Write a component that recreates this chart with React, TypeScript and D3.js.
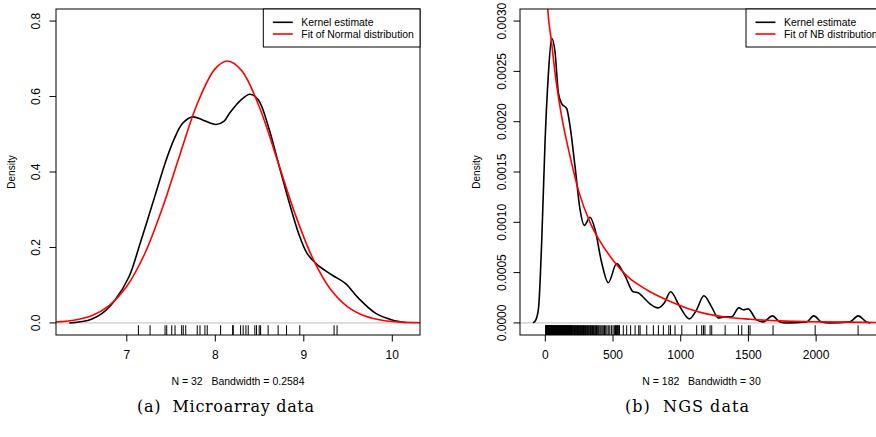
import React from "react";
import * as d3 from "d3";

// ---------- Panel (a): microarray data ----------
const microTicksX = [7, 8, 9, 10];
const microTicksY = [0.0, 0.2, 0.4, 0.6, 0.8];
const microTickLabelsY = ["0.0", "0.2", "0.4", "0.6", "0.8"];
const microKernel: [number, number][] = [
  [6.35, 0.0], [6.5, 0.004], [6.6, 0.01], [6.725, 0.026], [6.868, 0.061], [7.026, 0.123],
  [7.139, 0.202], [7.234, 0.273], [7.328, 0.344], [7.442, 0.43], [7.536, 0.488],
  [7.631, 0.529], [7.744, 0.546], [7.857, 0.538], [8.008, 0.526], [8.1, 0.535],
  [8.159, 0.555], [8.291, 0.591], [8.393, 0.606], [8.487, 0.591], [8.6, 0.52],
  [8.713, 0.423], [8.827, 0.326], [8.94, 0.238], [9.035, 0.185], [9.148, 0.155],
  [9.318, 0.127], [9.469, 0.105], [9.62, 0.065], [9.809, 0.026], [9.998, 0.008], [10.15, 0.001],
];
const microNormal: [number, number][] = [
  [6.2, 0.0024], [6.4, 0.0071], [6.6, 0.019], [6.8, 0.046], [7.0, 0.097], [7.2, 0.182],
  [7.4, 0.303], [7.6, 0.446], [7.8, 0.583], [8.0, 0.674], [8.14, 0.694], [8.3, 0.668],
  [8.5, 0.571], [8.7, 0.432], [8.9, 0.29], [9.1, 0.172], [9.3, 0.09], [9.5, 0.042],
  [9.7, 0.0175], [9.9, 0.0064], [10.1, 0.0021], [10.313, 0.0005],
];
const microRug = [
  7.131, 7.263, 7.432, 7.451, 7.508, 7.545, 7.62, 7.638, 7.666, 7.796, 7.827, 7.883,
  7.909, 8.06, 8.196, 8.203, 8.286, 8.315, 8.346, 8.372, 8.447, 8.466, 8.496, 8.512,
  8.597, 8.71, 8.805, 8.955, 9.342, 9.376,
];
const microLegend = ["Kernel estimate", "Fit of Normal distribution"];
const microSub = "N = 32   Bandwidth = 0.2584";
const microCaption = "(a)  Microarray data";

// ---------- Panel (b): NGS data ----------
const ngsTicksX = [0, 500, 1000, 1500, 2000];
const ngsTicksY = [0.0, 0.0005, 0.001, 0.0015, 0.002, 0.0025, 0.003];
const ngsTickLabelsY = ["0.0000", "0.0005", "0.0010", "0.0015", "0.0020", "0.0025", "0.0030"];
const ngsKernel: [number, number][] = [
  [-90, 0], [-70, 0.00003], [-50, 0.00015], [-27, 0.0008], [-2, 0.0018], [22, 0.00246],
  [47, 0.00283], [72, 0.00269], [96, 0.00229], [121, 0.00218], [158, 0.00213],
  [182, 0.00196], [219, 0.00156], [256, 0.00113], [288, 0.00097], [330, 0.00105],
  [367, 0.00093], [416, 0.0006], [465, 0.0004], [527, 0.00059], [588, 0.00047],
  [649, 0.00031], [686, 0.0003], [720, 0.00026], [773, 0.00019], [834, 0.00015],
  [880, 0.0002], [925, 0.00031], [994, 0.00016], [1063, 0.00004], [1117, 0.00013],
  [1171, 0.00027], [1228, 0.00016], [1277, 0.00005], [1326, 0.00006], [1376, 0.00006],
  [1429, 0.00015], [1466, 0.00013], [1498, 0.00014], [1560, 0.00003], [1609, 0.00001],
  [1678, 0.00007], [1732, 0.00001], [1780, 0], [1929, 0.00001], [1983, 0.00007],
  [2040, 0.00001], [2100, 0], [2249, 0.00001], [2311, 0.00007], [2372, 0.00001], [2400, 0],
];
const ngsNB: [number, number][] = [
  [0, 0.0036], [18, 0.00312], [45, 0.0028], [80, 0.0024], [121, 0.00205], [182, 0.00166],
  [244, 0.00132], [330, 0.001], [391, 0.00084], [502, 0.00062], [625, 0.00044],
  [699, 0.00037], [773, 0.00031], [846, 0.00026], [945, 0.0002], [1068, 0.000136],
  [1191, 0.00009], [1339, 0.000057], [1511, 0.000037], [1732, 0.00002], [2052, 0.00001],
  [2494, 0.000004],
];
const ngsRug = [
  2, 4, 5, 8, 10, 11, 14, 16, 18, 19, 22, 24, 25, 28, 30, 33, 34, 36, 39, 40, 43, 45, 46, 49,
  51, 54, 55, 58, 60, 61, 64, 66, 69, 70, 73, 75, 78, 80, 82, 85, 88, 90, 93, 95, 98,
  101, 104, 106, 108, 111, 113, 116, 118, 121, 123, 126, 128, 131, 133, 136, 139, 141, 144,
  147, 149, 152, 155, 157, 160, 163, 166, 168, 171, 174, 177, 179, 182, 185, 188, 191, 193,
  196, 199, 203, 207, 212, 216, 220, 224, 229, 233, 238, 242, 246, 251, 255, 259, 264, 268,
  273, 277, 282, 287, 291, 296, 301, 306, 311, 317, 322, 328, 333, 338, 343, 349, 355, 360,
  366, 372, 378, 384, 391, 397, 405, 412, 420, 428, 437, 446, 455, 465, 476, 488, 500, 510,
  518, 523, 527, 532, 538, 543, 548, 576, 601, 630, 663, 690, 700, 749, 798, 835, 872, 912,
  925, 958, 1008, 1118, 1155, 1168, 1179, 1217, 1229, 1328, 1426, 1451, 1500, 1512, 1682,
  1993, 2310,
];
const ngsLegend = ["Kernel estimate", "Fit of NB distribution"];
const ngsSub = "N = 182   Bandwidth = 30";
const ngsCaption = "(b)  NGS data";

const SANS = "'Liberation Sans', Arial, Helvetica, sans-serif";
const SERIF = "'DejaVu Serif', 'Liberation Serif', serif";

type PanelProps = {
  id: string;
  x0: number; x1: number; y0: number; y1: number;
  xDomain: [number, number]; yDomain: [number, number];
  ticksX: number[]; ticksY: number[]; tickLabelsY: string[];
  kernel: [number, number][]; fit: [number, number][]; rug: number[];
  legend: string[]; legendX: number; sub: string;
  yLabelX: number; densityX: number;
  caption: string; captionX: number; captionW: number;
  curve: d3.CurveFactory;
};

function Panel(p: PanelProps) {
  const x = d3.scaleLinear().domain(p.xDomain).range([p.x0, p.x1]);
  const y = d3.scaleLinear().domain(p.yDomain).range([p.y1, p.y0]);
  const line = d3
    .line<[number, number]>()
    .x((d) => x(d[0]))
    .y((d) => y(d[1]))
    .curve(p.curve);
  const cx = (p.x0 + p.x1) / 2;
  const cy = (p.y0 + p.y1) / 2;
  const clipId = `clip-${p.id}`;
  const rugH = (p.y1 - p.y0) * 0.03;
  return (
    <g>
      <defs>
        <clipPath id={clipId}>
          <rect x={p.x0} y={p.y0} width={p.x1 - p.x0} height={p.y1 - p.y0} />
        </clipPath>
      </defs>
      <g clipPath={`url(#${clipId})`}>
        <line x1={p.x0} x2={p.x1} y1={y(0)} y2={y(0)} stroke="#bebebe" strokeWidth={1} />
        <path d={line(p.kernel) || ""} fill="none" stroke="#000" strokeWidth={1.6} />
        <path d={line(p.fit) || ""} fill="none" stroke="#ff0000" strokeWidth={1.6} />
        {p.rug.map((v, i) => (
          <line key={i} x1={x(v)} x2={x(v)} y1={p.y1} y2={p.y1 - rugH} stroke="#000" strokeWidth={1} />
        ))}
      </g>
      <rect x={p.x0} y={p.y0} width={p.x1 - p.x0} height={p.y1 - p.y0} fill="none" stroke="#000" strokeWidth={1} />
      {p.ticksX.map((t) => (
        <g key={t}>
          <line x1={x(t)} x2={x(t)} y1={p.y1} y2={p.y1 + 6.5} stroke="#000" />
          <text x={x(t)} y={359} textAnchor="middle" fontSize={12} fontFamily={SANS}>{t}</text>
        </g>
      ))}
      {p.ticksY.map((t, i) => (
        <g key={t}>
          <line x1={p.x0 - 6.5} x2={p.x0} y1={y(t)} y2={y(t)} stroke="#000" />
          <text
            transform={`translate(${p.yLabelX},${y(t)}) rotate(-90)`}
            textAnchor="middle" fontSize={12} fontFamily={SANS}
          >{p.tickLabelsY[i]}</text>
        </g>
      ))}
      <text transform={`translate(${p.densityX},${cy}) rotate(-90)`} textAnchor="middle" fontSize={10} fontFamily={SANS}>Density</text>
      <text x={cx} y={385} textAnchor="middle" fontSize={10.5} fontFamily={SANS} style={{ whiteSpace: "pre" }}>{p.sub}</text>
      <rect x={p.legendX} y={p.y0} width={p.x1 - p.legendX} height={38} fill="#fff" stroke="#000" strokeWidth={1} />
      {p.legend.map((s, i) => (
        <g key={s}>
          <line x1={p.legendX + 9.5} x2={p.legendX + 29.5} y1={22.3 + i * 11.7} y2={22.3 + i * 11.7} stroke={i === 0 ? "#000" : "#ff0000"} strokeWidth={1.6} />
          <text x={p.legendX + 38} y={26 + i * 11.7} fontSize={10.4} fontFamily={SANS}>{s}</text>
        </g>
      ))}
      <text x={p.captionX} y={412} textAnchor="middle" fontSize={16} fontFamily={SERIF}
        textLength={p.captionW} lengthAdjust="spacing" style={{ whiteSpace: "pre" }}>{p.caption}</text>
    </g>
  );
}

export default function App() {
  return (
    <svg width={876} height={437} style={{ position: "absolute", left: 0, top: 0, background: "#fff" }}>
      <rect x={0} y={0} width={876} height={437} fill="#fff" />
      <Panel
        id="a" x0={56} x1={420} y0={9} y1={335}
        xDomain={[6.2, 10.313]} yDomain={[-0.032, 0.832]}
        ticksX={microTicksX} ticksY={microTicksY} tickLabelsY={microTickLabelsY}
        kernel={microKernel} fit={microNormal} rug={microRug}
        legend={microLegend} legendX={263.3} sub={microSub}
        yLabelX={40.3} densityX={14.7}
        caption={microCaption} captionX={225.5} captionW={177}
        curve={d3.curveCatmullRom.alpha(0.5)}
      />
      <Panel
        id="b" x0={520} x1={883} y0={9} y1={335}
        xDomain={[-187, 2494]} yDomain={[-0.00012, 0.00312]}
        ticksX={ngsTicksX} ticksY={ngsTicksY} tickLabelsY={ngsTickLabelsY}
        kernel={ngsKernel} fit={ngsNB} rug={ngsRug}
        legend={ngsLegend} legendX={746} sub={ngsSub}
        yLabelX={506} densityX={479.5}
        caption={ngsCaption} captionX={687} captionW={124}
        curve={d3.curveMonotoneX}
      />
    </svg>
  );
}
